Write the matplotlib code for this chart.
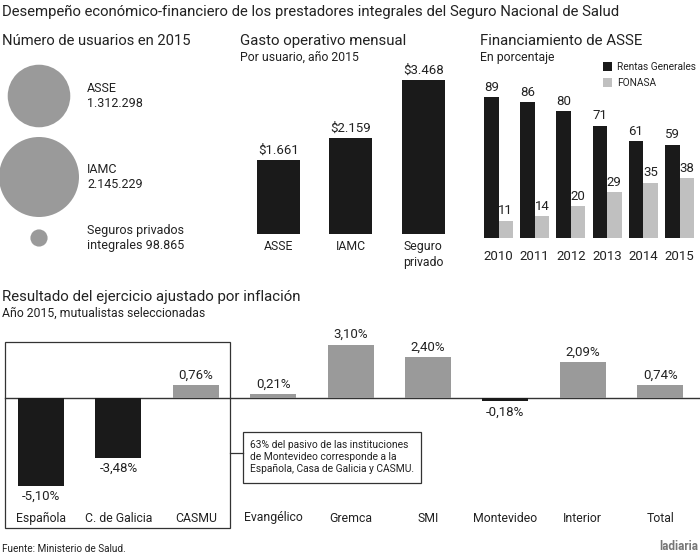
import matplotlib
matplotlib.use('Agg')
import matplotlib.pyplot as plt
from matplotlib.patches import Circle, Rectangle
import matplotlib.transforms as mtransforms
import numpy as np

plt.rcParams['font.family'] = ['Roboto', 'DejaVu Sans']

# datos
usuarios_labels = ['ASSE\n1.312.298', 'IAMC\n2.145.229', 'Seguros privados\nintegrales 98.865']
usuarios = [1312298, 2145229, 98865]

gasto_cats = ['ASSE', 'IAMC', 'Seguro\nprivado']
gasto = [1661, 2159, 3468]
gasto_labels = ['$1.661', '$2.159', '$3.468']

anios = ['2010', '2011', '2012', '2013', '2014', '2015']
rentas = [89, 86, 80, 71, 61, 59]
fonasa = [11, 14, 20, 29, 35, 38]

mutualistas = ['Española', 'C. de Galicia', 'CASMU', 'Evangélico', 'Gremca',
               'SMI', 'Montevideo', 'Interior', 'Total']
resultado = [-5.10, -3.48, 0.76, 0.21, 3.10, 2.40, -0.18, 2.09, 0.74]

BLACK = '#1a1a1a'
GRAY = '#9a9a9a'
LIGHT = '#c0c0c0'
TXT = '#222222'

W, H = 700, 556
fig = plt.figure(figsize=(W / 100, H / 100), dpi=100)

def box(x0, y0, x1, y1):
    # caja en pixeles (origen arriba-izq) -> fraccion de figura
    return [x0 / W, 1 - y1 / H, (x1 - x0) / W, (y1 - y0) / H]

# overlay para textos y burbujas
ov = fig.add_axes([0, 0, 1, 1])
ov.set_xlim(0, W)
ov.set_ylim(H, 0)
ov.axis('off')

ov.text(2, 12, 'Desempeño económico-financiero de los prestadores integrales del Seguro Nacional de Salud',
        fontsize=10.7, color=TXT, va='center')

# --- usuarios (burbujas, area proporcional) ---
ov.text(2, 41, 'Número de usuarios en 2015', fontsize=10.6, color=TXT, va='center')
r_ref = 40 / np.sqrt(max(usuarios))
centros_y = [96, 177, 238]
for v, cy, lab in zip(usuarios, centros_y, usuarios_labels):
    ov.add_patch(Circle((39, cy), r_ref * np.sqrt(v), color=GRAY, lw=0))
    ov.text(87, cy, lab, fontsize=9, color=TXT, va='center', linespacing=1.25)

# --- gasto operativo ---
ov.text(240, 41, 'Gasto operativo mensual', fontsize=10.8, color=TXT, va='center')
ov.text(240, 57, 'Por usuario, año 2015', fontsize=8.8, color=TXT, va='center')
ax1 = fig.add_axes(box(242, 74.1, 459.5, 234))
x1 = np.arange(len(gasto))
ax1.bar(x1, gasto, width=0.593, color=BLACK)
ax1.set_xlim(-0.5, 2.5)
ax1.set_ylim(0, 3600)
ax1.axis('off')
for xi, v, lab in zip(x1, gasto, gasto_labels):
    ax1.text(xi, v + 80, lab, ha='center', va='bottom', fontsize=9.5, color=TXT)
tr1 = mtransforms.blended_transform_factory(ax1.transData, fig.transFigure)
for xi, c in zip(x1, gasto_cats):
    ax1.text(xi, 1 - 240 / H, c, ha='center', va='top', fontsize=8.8, color=TXT,
             transform=tr1, linespacing=1.3)

# --- financiamiento ASSE ---
ov.text(480, 41, 'Financiamiento de ASSE', fontsize=10.8, color=TXT, va='center')
ov.text(480, 57, 'En porcentaje', fontsize=8.8, color=TXT, va='center')
ax2 = fig.add_axes(box(480.4, 79.6, 697.6, 238))
x2 = np.arange(len(anios))
ax2.bar(x2 - 0.2, rentas, width=0.4, color=BLACK)
ax2.bar(x2 + 0.2, fonasa, width=0.4, color=LIGHT)
ax2.set_xlim(-0.5, 5.5)
ax2.set_ylim(0, 100)
ax2.axis('off')
for xi, a, b in zip(x2, rentas, fonasa):
    ax2.text(xi - 0.2, a + 2, str(a), ha='center', va='bottom', fontsize=9.5, color=TXT)
    ax2.text(xi + 0.2, b + 2, str(b), ha='center', va='bottom', fontsize=9.5, color=TXT)
tr2 = mtransforms.blended_transform_factory(ax2.transData, fig.transFigure)
for xi, a in zip(x2, anios):
    ax2.text(xi, 1 - 256 / H, a, ha='center', va='center', fontsize=9.5, color=TXT, transform=tr2)
ov.add_patch(Rectangle((603, 62), 9, 9, color=BLACK, lw=0))
ov.add_patch(Rectangle((603, 78), 9, 9, color=LIGHT, lw=0))
ov.text(617, 67, 'Rentas Generales', fontsize=7.3, color=TXT, va='center')
ov.text(617, 83, 'FONASA', fontsize=7.3, color=TXT, va='center')

# --- resultado del ejercicio ---
ov.text(2, 297, 'Resultado del ejercicio ajustado por inflación', fontsize=10.8, color=TXT, va='center')
ov.text(2, 313, 'Año 2015, mutualistas seleccionadas', fontsize=8.8, color=TXT, va='center')
ax3 = fig.add_axes(box(2.3, 329.2, 698.9, 501.2))
x3 = np.arange(len(mutualistas))
cols = [BLACK if v < 0 else GRAY for v in resultado]
ax3.bar(x3, resultado, width=0.595, color=cols, zorder=2)
ax3.set_xlim(-0.5, 8.5)
ax3.set_ylim(-6, 4)
ax3.axis('off')
for xi, v in zip(x3, resultado):
    lab = ('%.2f%%' % v).replace('.', ',')
    if v >= 0:
        ax3.text(xi, v + 0.2, lab, ha='center', va='bottom', fontsize=9.5, color=TXT)
    else:
        ax3.text(xi, v - 0.25, lab, ha='center', va='top', fontsize=9.5, color=TXT)
tr3 = mtransforms.blended_transform_factory(ax3.transData, fig.transFigure)
for xi, c in zip(x3, mutualistas):
    ax3.text(xi, 1 - 518 / H, c, ha='center', va='center', fontsize=8.8, color=TXT, transform=tr3)
ov.plot([5, 700], [398, 398], color='#333333', lw=1, zorder=3)

# recuadro y nota
ov.add_patch(Rectangle((5, 342), 225, 186, fill=False, ec='#333333', lw=0.9))
ov.plot([230, 243], [453, 453], color='#333333', lw=0.9)
ov.add_patch(Rectangle((243, 432), 178, 51, fill=False, ec='#333333', lw=0.9))
ov.text(250, 457, '63% del pasivo de las instituciones\nde Montevideo corresponde a la\nEspañola, Casa de Galicia y CASMU.',
        fontsize=7.4, color=TXT, va='center', linespacing=1.3)

ov.text(2, 549, 'Fuente: Ministerio de Salud.', fontsize=7.2, color=TXT, va='center')
ov.text(698, 546, 'ladiaria', fontsize=8.5, color='#777777', fontweight='bold', ha='right', va='center')

fig.savefig('out.png', dpi=100)
